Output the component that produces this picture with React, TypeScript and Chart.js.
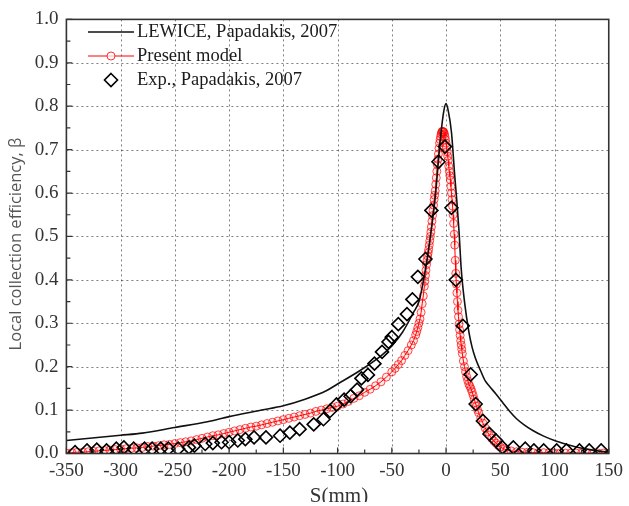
import React, { useEffect, useRef } from "react";
import { Chart, registerables } from "chart.js";
Chart.register(...registerables);

const xMajorTicks = [-350, -300, -250, -200, -150, -100, -50, 0, 50, 100, 150];
const yMajorTicks = [0, 0.1, 0.2, 0.3, 0.4, 0.5, 0.6, 0.7, 0.8, 0.9, 1.0];

// LEWICE (Papadakis, 2007)
const lewiceS = [-350, -300, -280, -250, -220, -200, -170, -150, -130, -110, -100, -80, -60, -50, -40, -30, -25, -20, -15, -10, -5, -2, 0, 2, 5, 8, 10, 12, 14, 17, 21, 24, 27, 32, 36, 40, 46, 52, 58, 65, 72, 80, 90, 100, 110, 120, 130, 140, 150];
const lewiceBeta = [0.03, 0.042, 0.047, 0.06, 0.073, 0.085, 0.1, 0.11, 0.125, 0.145, 0.16, 0.19, 0.225, 0.248, 0.28, 0.325, 0.35, 0.41, 0.49, 0.59, 0.73, 0.79, 0.806, 0.79, 0.74, 0.64, 0.58, 0.51, 0.425, 0.35, 0.281, 0.245, 0.22, 0.19, 0.168, 0.155, 0.137, 0.118, 0.099, 0.08, 0.066, 0.053, 0.04, 0.03, 0.022, 0.015, 0.01, 0.006, 0.003];

// Present model — left tail
const modelS1 = [-350, -345, -340, -335, -330, -325, -320, -315, -310, -305, -300, -295, -290, -285, -280, -275, -270, -265, -260, -255, -250, -245, -240, -235, -230, -225, -220, -215, -210, -205, -200, -195, -190, -185, -180, -175, -170, -165, -160, -155, -150, -145, -140, -135, -130, -125, -120, -115, -110, -105, -100];
const modelBeta1 = [0.001, 0.002, 0.003, 0.003, 0.004, 0.005, 0.006, 0.007, 0.008, 0.009, 0.01, 0.011, 0.012, 0.013, 0.014, 0.016, 0.017, 0.018, 0.02, 0.021, 0.023, 0.025, 0.027, 0.029, 0.032, 0.035, 0.038, 0.041, 0.043, 0.046, 0.049, 0.052, 0.055, 0.058, 0.061, 0.063, 0.066, 0.069, 0.072, 0.075, 0.078, 0.081, 0.084, 0.087, 0.09, 0.093, 0.097, 0.1, 0.103, 0.106, 0.109];
// Present model — rising flank
const modelS2 = [-95, -90, -85, -80, -75, -70, -65, -60, -55, -50, -47, -44, -41, -38, -35, -32, -30, -28, -27, -26, -25, -24, -23, -22, -21];
const modelBeta2 = [0.114, 0.12, 0.127, 0.133, 0.141, 0.148, 0.156, 0.165, 0.176, 0.188, 0.196, 0.205, 0.214, 0.226, 0.237, 0.25, 0.26, 0.273, 0.281, 0.29, 0.3, 0.31, 0.325, 0.345, 0.363];
// Present model — peak
const modelS3 = [
  -20, -19.5, -19, -18.5, -18, -17.5, -17, -16.5, -16, -15.5, -15, -14.5, -14, -13.5, -13, -12.5, -12, -11.5, -11, -10.5,
  -10, -9.5, -9, -8.5, -8, -7.5, -7, -6.5, -6, -5.5, -5, -4.5, -4, -3.5, -3, -2.5, -2, -1.5, -1, -0.5,
  0, 0.5, 1, 1.5, 2, 2.5, 3, 3.5, 4, 4.5, 5, 5.5, 6, 6.5, 7, 7.5, 8, 8.5, 9, 9.5,
  10, 10.5, 11, 11.5, 12, 12.5, 13, 13.5, 14, 14.5, 15,
];
const modelBeta3 = [
  0.385, 0.397, 0.41, 0.422, 0.435, 0.445, 0.455, 0.462, 0.47, 0.48, 0.49, 0.5, 0.51, 0.522, 0.535, 0.548, 0.56, 0.572, 0.585, 0.595,
  0.605, 0.62, 0.635, 0.65, 0.665, 0.678, 0.69, 0.703, 0.715, 0.723, 0.73, 0.736, 0.74, 0.742, 0.742, 0.741, 0.74, 0.736, 0.73, 0.723,
  0.715, 0.705, 0.695, 0.685, 0.675, 0.662, 0.65, 0.64, 0.63, 0.615, 0.6, 0.585, 0.57, 0.55, 0.53, 0.505, 0.48, 0.445, 0.415, 0.39,
  0.37, 0.35, 0.33, 0.315, 0.298, 0.285, 0.272, 0.26, 0.25, 0.24, 0.23,
];
// Present model — falling flank and right tail
const modelS4 = [16, 17, 18, 19, 20, 21, 22, 23, 24, 25, 26, 27, 28, 29, 30, 32, 34, 36, 38, 40, 42, 44, 46, 48, 50, 53, 56, 60, 65, 70, 75, 80, 85, 90, 95, 100, 105, 110, 115, 120, 125, 130, 135, 140, 145, 150];
const modelBeta4 = [0.213, 0.2, 0.188, 0.177, 0.168, 0.16, 0.155, 0.149, 0.142, 0.134, 0.125, 0.117, 0.109, 0.101, 0.094, 0.082, 0.07, 0.059, 0.05, 0.042, 0.035, 0.029, 0.024, 0.019, 0.015, 0.011, 0.008, 0.006, 0.004, 0.003, 0.003, 0.002, 0.002, 0.002, 0.002, 0.001, 0.001, 0.001, 0.001, 0.001, 0.001, 0.001, 0.001, 0.001, 0.001, 0.001];

// Experiment (Papadakis, 2007)
const expS = [-342, -331, -322, -313, -304, -297, -288, -278, -271, -263, -256, -247, -237, -232, -222, -215, -207, -200, -192, -185, -177, -166, -153, -144, -135, -122, -113, -107, -101, -94, -88, -82, -78, -72, -66, -59, -53, -50, -44, -36, -31, -26, -19, -13.5, -7, -1, 5, 9, 15.5, 22.7, 27.3, 34, 40, 46, 52, 62, 73, 81, 90, 102, 111, 123, 132, 143];
const expBeta = [0.003, 0.007, 0.009, 0.007, 0.011, 0.014, 0.011, 0.011, 0.011, 0.011, 0.011, 0.011, 0.014, 0.018, 0.022, 0.024, 0.026, 0.026, 0.03, 0.033, 0.037, 0.037, 0.041, 0.048, 0.056, 0.067, 0.079, 0.098, 0.113, 0.124, 0.132, 0.147, 0.173, 0.181, 0.207, 0.234, 0.257, 0.268, 0.298, 0.321, 0.355, 0.407, 0.448, 0.56, 0.672, 0.707, 0.566, 0.4, 0.294, 0.182, 0.114, 0.075, 0.045, 0.03, 0.014, 0.014, 0.011, 0.007, 0.007, 0.007, 0.007, 0.007, 0.007, 0.007];

const seriesNames = ["LEWICE, Papadakis, 2007", "Present model", "Exp., Papadakis, 2007"];
const xTitle = "S(mm)";
const yTitle = "Local collection efficiency, \u03b2";

const SERIF = "'Liberation Serif', 'DejaVu Serif', serif";
const SANS = "'Open Sans', 'Noto Sans', sans-serif";

const zip = (xs: number[], ys: number[]) => xs.map((x, i) => ({ x, y: ys[i] }));
const modelS = [...modelS1, ...modelS2, ...modelS3, ...modelS4];
const modelBeta = [...modelBeta1, ...modelBeta2, ...modelBeta3, ...modelBeta4];

const decorPlugin = {
  id: "decor",
  beforeDatasetsDraw(chart: any) {
    const { ctx, chartArea: a, scales } = chart;
    const xs = scales.x, ys = scales.y;
    ctx.save();
    ctx.strokeStyle = "rgba(0,0,0,0.5)";
    ctx.lineWidth = 1;
    ctx.setLineDash([2, 3]);
    ctx.beginPath();
    xMajorTicks.slice(1, -1).forEach((v) => {
      const px = Math.round(xs.getPixelForValue(v)) + 0.5;
      ctx.moveTo(px, a.top);
      ctx.lineTo(px, a.bottom);
    });
    yMajorTicks.slice(1, -1).forEach((v) => {
      const py = Math.round(ys.getPixelForValue(v)) + 0.5;
      ctx.moveTo(a.left, py);
      ctx.lineTo(a.right, py);
    });
    ctx.stroke();
    ctx.restore();
  },
  afterDatasetsDraw(chart: any) {
    const { ctx, chartArea: a, scales } = chart;
    const xs = scales.x, ys = scales.y;
    ctx.save();
    ctx.strokeStyle = "#333";
    ctx.lineWidth = 1.2;
    ctx.beginPath();
    for (let v = -350; v <= 150; v += 25) {
      const px = xs.getPixelForValue(v);
      const len = v % 50 === 0 ? 6 : 4;
      ctx.moveTo(px, a.bottom);
      ctx.lineTo(px, a.bottom - len);
    }
    for (let i = 0; i <= 20; i++) {
      const v = i * 0.05;
      const py = ys.getPixelForValue(v);
      const len = i % 2 === 0 ? 6 : 4;
      ctx.moveTo(a.left, py);
      ctx.lineTo(a.left + len, py);
    }
    ctx.stroke();
    ctx.strokeStyle = "#333";
    ctx.lineWidth = 1.6;
    ctx.strokeRect(a.left, a.top, a.right - a.left, a.bottom - a.top);
    ctx.restore();
  },
  afterDraw(chart: any) {
    const { ctx } = chart;
    ctx.save();
    const lx0 = 88, lx1 = 134, tx = 137;
    const rows = [32, 56, 80];
    ctx.font = `18.5px ${SERIF}`;
    ctx.fillStyle = "#1a1a1a";
    ctx.textBaseline = "middle";
    ctx.textAlign = "left";
    ctx.strokeStyle = "#111";
    ctx.lineWidth = 1.6;
    ctx.beginPath();
    ctx.moveTo(lx0, rows[0]);
    ctx.lineTo(lx1, rows[0]);
    ctx.stroke();
    ctx.fillText(seriesNames[0], tx, rows[0]);
    ctx.strokeStyle = "red";
    ctx.lineWidth = 1;
    ctx.beginPath();
    ctx.moveTo(lx0, rows[1]);
    ctx.lineTo(lx1, rows[1]);
    ctx.stroke();
    ctx.strokeStyle = "rgba(255,0,0,0.8)";
    ctx.fillStyle = "rgba(255,255,255,0.7)";
    ctx.beginPath();
    ctx.arc((lx0 + lx1) / 2, rows[1], 4, 0, Math.PI * 2);
    ctx.fill();
    ctx.stroke();
    ctx.fillStyle = "#1a1a1a";
    ctx.fillText(seriesNames[1], tx, rows[1]);
    const cx = (lx0 + lx1) / 2, cy = rows[2], r = 6.5;
    ctx.strokeStyle = "#000";
    ctx.lineWidth = 1.6;
    ctx.beginPath();
    ctx.moveTo(cx, cy - r);
    ctx.lineTo(cx + r, cy);
    ctx.lineTo(cx, cy + r);
    ctx.lineTo(cx - r, cy);
    ctx.closePath();
    ctx.stroke();
    ctx.fillText(seriesNames[2], tx, rows[2]);
    ctx.save();
    ctx.beginPath();
    ctx.rect(0, 0, 629, 502);
    ctx.clip();
    ctx.font = `21px ${SERIF}`;
    ctx.fillStyle = "#333";
    ctx.textAlign = "center";
    ctx.textBaseline = "alphabetic";
    ctx.fillText(xTitle, 339, 502);
    ctx.restore();
    ctx.translate(16, 244);
    ctx.rotate(-Math.PI / 2);
    ctx.font = `16.5px ${SANS}`;
    ctx.fillStyle = "#555";
    ctx.textAlign = "center";
    ctx.textBaseline = "middle";
    ctx.fillText(yTitle, 0, 0);
    ctx.restore();
  },
};

export default function App() {
  const ref = useRef<HTMLCanvasElement>(null);
  useEffect(() => {
    const chart = new Chart(ref.current!, {
      type: "line",
      data: {
        datasets: [
          {
            label: seriesNames[0],
            data: zip(lewiceS, lewiceBeta),
            borderColor: "#111",
            borderWidth: 1.6,
            pointRadius: 0,
            cubicInterpolationMode: "monotone",
            order: 1,
          },
          {
            label: seriesNames[1],
            data: zip(modelS, modelBeta),
            borderColor: "red",
            borderWidth: 1,
            pointRadius: 4,
            pointBorderColor: "rgba(255,0,0,0.7)",
            pointBackgroundColor: "rgba(255,0,0,0.08)",
            pointBorderWidth: 1,
            clip: 0,
            order: 2,
          },
          {
            label: seriesNames[2],
            data: zip(expS, expBeta),
            showLine: false,
            pointStyle: "rectRot",
            pointRadius: 6.5,
            pointBorderColor: "#000",
            pointBorderWidth: 1.6,
            pointBackgroundColor: "rgba(0,0,0,0)",
            clip: 0,
            order: 0,
          },
        ],
      },
      options: {
        responsive: false,
        animation: false,
        devicePixelRatio: 1,
        layout: { padding: { top: 14, right: 17, left: 0, bottom: 0 } },
        plugins: { legend: { display: false }, tooltip: { enabled: false } },
        scales: {
          x: {
            type: "linear",
            min: -350,
            max: 150,
            afterBuildTicks: (s: any) => {
              s.ticks = xMajorTicks.map((v) => ({ value: v }));
            },
            afterFit: (s: any) => {
              s.height = 52.5;
            },
            ticks: {
              font: { family: SERIF, size: 19 },
              color: "#333",
              padding: 6,
              maxRotation: 0,
              callback: (v: any) => String(v),
            },
            grid: { display: false, drawTicks: false },
            border: { display: false },
          },
          y: {
            type: "linear",
            min: 0,
            max: 1,
            afterBuildTicks: (s: any) => {
              s.ticks = yMajorTicks.map((v) => ({ value: v }));
            },
            afterFit: (s: any) => {
              s.width = 66.4;
            },
            ticks: {
              font: { family: SERIF, size: 19 },
              color: "#333",
              padding: 8,
              callback: (v: any) => Number(v).toFixed(1),
            },
            grid: { display: false, drawTicks: false },
            border: { display: false },
          },
        },
      },
      plugins: [decorPlugin],
    } as any);
    return () => chart.destroy();
  }, []);
  return (
    <div style={{ position: "fixed", left: 0, top: 0, width: 629, height: 506, background: "#fff" }}>
      <canvas ref={ref} width={629} height={506} style={{ display: "block", width: 629, height: 506 }} />
    </div>
  );
}
